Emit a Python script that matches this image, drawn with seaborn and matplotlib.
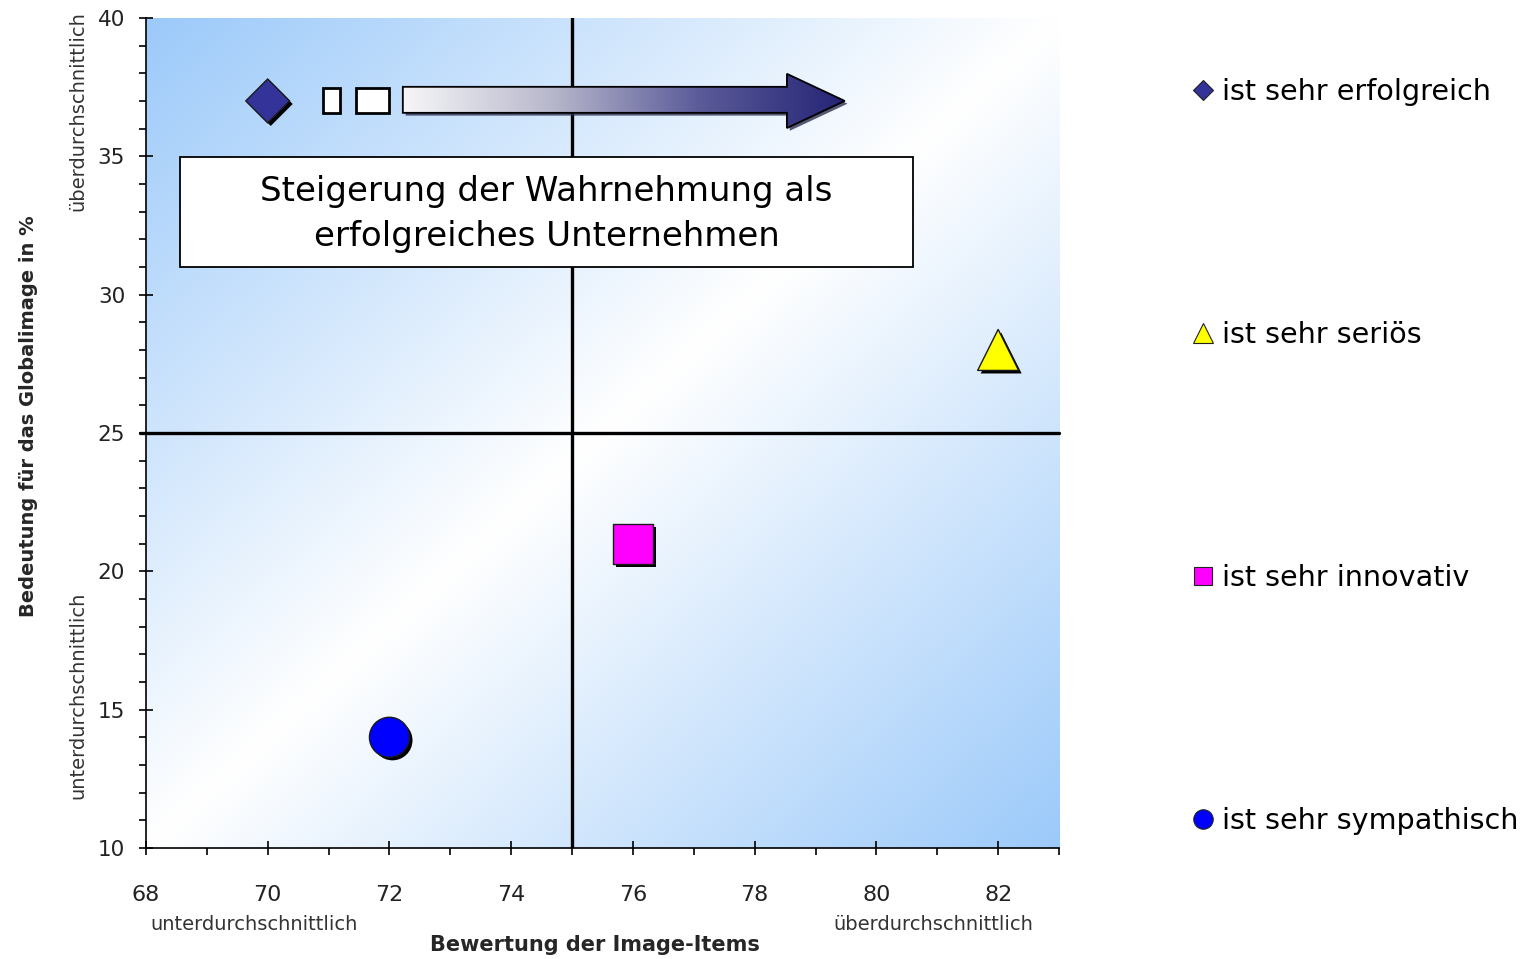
import numpy as np
import pandas as pd
import matplotlib
matplotlib.use("Agg")
import matplotlib.pyplot as plt
import matplotlib.patheffects as pe
import matplotlib.transforms as mtransforms
from matplotlib.colors import LinearSegmentedColormap
from matplotlib.patches import Polygon, Rectangle
from matplotlib.lines import Line2D
from matplotlib.ticker import MultipleLocator
from matplotlib import font_manager
import seaborn as sns

# ---------------- data ----------------
labels = ["ist sehr erfolgreich", "ist sehr seriös", "ist sehr innovativ", "ist sehr sympathisch"]
x_values = [70, 82, 76, 72]
y_values = [37, 28, 21, 14]
face_colors = ["#333399", "#FFFF00", "#FF00FF", "#0000FF"]
marker_shapes = ["D", "^", "s", "o"]

x_ticks = [68, 70, 72, 74, 76, 78, 80, 82]
y_ticks = [10, 15, 20, 25, 30, 35, 40]
x_mid = 75
y_mid = 25

x_label = "Bewertung der Image-Items"
y_label = "Bedeutung für das Globalimage in %"
low_label = "unterdurchschnittlich"
high_label = "überdurchschnittlich"
box_text = "Steigerung der Wahrnehmung als\nerfolgreiches Unternehmen"

# ---------------- style ----------------
sns.set_style("ticks")
plt.rcParams["font.family"] = ["DejaVu Sans"]
names = {f.name for f in font_manager.fontManager.ttflist}
if "Liberation Sans Narrow" in names:
    xtick_family, xtick_size = ["Liberation Sans Narrow", "DejaVu Sans"], 19
else:
    xtick_family, xtick_size = ["DejaVu Sans"], 16

marker_areas = [500, 870, 830, 830]

fig = plt.figure(figsize=(15.22, 9.59), dpi=100)
fig.patch.set_facecolor("white")
ax = fig.add_axes([0.0959, 0.1158, 0.5999, 0.8655])

# background gradient (blue at top-left and bottom-right corners)
nx, ny = 400, 300
xx, yy = np.meshgrid(np.linspace(0, 1, nx), np.linspace(0, 1, ny))
t = (xx + yy) / 2
w = np.abs(2 * t - 1) ** 1.0
blue = np.array([0.61, 0.79, 0.98])
img = (1 - w)[..., None] * np.ones(3) + w[..., None] * blue
ax.imshow(img, extent=(68, 83, 10, 40), origin="upper", aspect="auto",
          zorder=0, interpolation="bilinear")

# quadrant lines
ax.axvline(x_mid, color="black", lw=2.4, zorder=2)
ax.axhline(y_mid, xmin=-0.007, color="black", lw=2.4, zorder=2, clip_on=False)

# scatter points
df = pd.DataFrame({"label": labels, "x": x_values, "y": y_values})
sns.scatterplot(data=df, x="x", y="y", hue="label", style="label", size="label",
                palette=dict(zip(labels, face_colors)),
                markers=dict(zip(labels, marker_shapes)),
                sizes=dict(zip(labels, marker_areas)),
                edgecolor="#1a1a1a", linewidth=1.0, legend=False, ax=ax, zorder=5)
coll = ax.collections[-1]
coll.set_path_effects([pe.SimplePatchShadow(offset=(2.2, -2.2), shadow_rgbFace="black", alpha=1.0),
                       pe.Normal()])

# arrow annotation
arrow_verts = [(72.22, 36.57), (78.53, 36.57), (78.53, 36.02), (79.48, 37.0),
               (78.53, 37.98), (78.53, 37.51), (72.22, 37.51)]
shadow_tr = mtransforms.offset_copy(ax.transData, fig=fig, x=2.0, y=-2.0, units="points")
ax.add_patch(Polygon(arrow_verts, closed=True, facecolor="#303050", edgecolor="none",
                     alpha=0.8, transform=shadow_tr, zorder=2.8))
poly = Polygon(arrow_verts, closed=True, facecolor="none", edgecolor="black", lw=1.3, zorder=4)
ax.add_patch(poly)
cmap = LinearSegmentedColormap.from_list("arr", ["#f6f6f8", "#b8b8cc", "#5c5c9a", "#242476"])
grad = np.linspace(0, 1, 256)[None, :]
im = ax.imshow(grad, extent=(72.22, 79.48, 36.02, 37.98), cmap=cmap, aspect="auto",
               zorder=3, interpolation="bilinear")
im.set_clip_path(poly)
ax.add_patch(Rectangle((70.91, 36.57), 0.28, 0.9, facecolor="white", edgecolor="black",
                       lw=2.0, zorder=4))
ax.add_patch(Rectangle((71.45, 36.57), 0.55, 0.9, facecolor="white", edgecolor="black",
                       lw=2.0, zorder=4))

# text box
ax.add_patch(Rectangle((68.56, 31.0), 12.04, 3.98, facecolor="white", edgecolor="black",
                       lw=1.3, zorder=6))
ax.text(74.58, 32.92, box_text, ha="center", va="center", fontsize=24.5, linespacing=1.45,
        color="black", zorder=7)

# axes
ax.set_xlim(68, 83)
ax.set_ylim(10, 40)
ax.set_xticks(x_ticks)
ax.set_yticks(y_ticks)
ax.xaxis.set_minor_locator(MultipleLocator(1))
ax.yaxis.set_minor_locator(MultipleLocator(1))
ax.set_xlabel("")
ax.set_ylabel("")
for s in ["top", "right"]:
    ax.spines[s].set_visible(False)
for s in ["left", "bottom"]:
    ax.spines[s].set_color("black")
    ax.spines[s].set_linewidth(1.2)
    ax.spines[s].set_zorder(3)
ax.tick_params(which="major", direction="inout", length=10, width=1.2, color="black")
ax.tick_params(which="minor", direction="out", length=5, width=1.2, color="black")
ax.tick_params(axis="x", which="major", pad=22, labelsize=xtick_size, labelcolor="#222222")
ax.tick_params(axis="y", which="major", pad=10, labelsize=15.5, labelcolor="#222222")
for lab in ax.get_xticklabels():
    lab.set_family(xtick_family)

# axis titles and qualifiers
fig.text(0.391, 0.0146, x_label, ha="center", va="center", fontsize=15, fontweight="bold")
fig.text(0.0184, 0.566, y_label, ha="center", va="center", rotation=90, fontsize=14,
         fontweight="bold")
fig.text(0.167, 0.0355, low_label, ha="center", va="center", fontsize=14, color="#333333")
fig.text(0.613, 0.0355, high_label, ha="center", va="center", fontsize=14, color="#333333")
fig.text(0.0512, 0.884, high_label, ha="center", va="center", rotation=90, fontsize=14,
         color="#333333")
fig.text(0.0512, 0.275, low_label, ha="center", va="center", rotation=90, fontsize=14,
         color="#333333")

# legend
legend_sizes = [10.5, 15, 13, 14]
handles = [Line2D([], [], linestyle="none", marker=m, markerfacecolor=c,
                  markeredgecolor="#222222", markeredgewidth=0.8, markersize=ms)
           for m, c, ms in zip(marker_shapes, face_colors, legend_sizes)]
leg = fig.legend(handles, labels, loc="upper left", bbox_to_anchor=(0.781, 0.919),
                 frameon=False, fontsize=20.6, labelspacing=7.52, handlelength=1.0,
                 handletextpad=0.15, borderpad=0, borderaxespad=0)
for txt in leg.get_texts():
    txt.set_color("black")

fig.savefig("out.png", dpi=100)
